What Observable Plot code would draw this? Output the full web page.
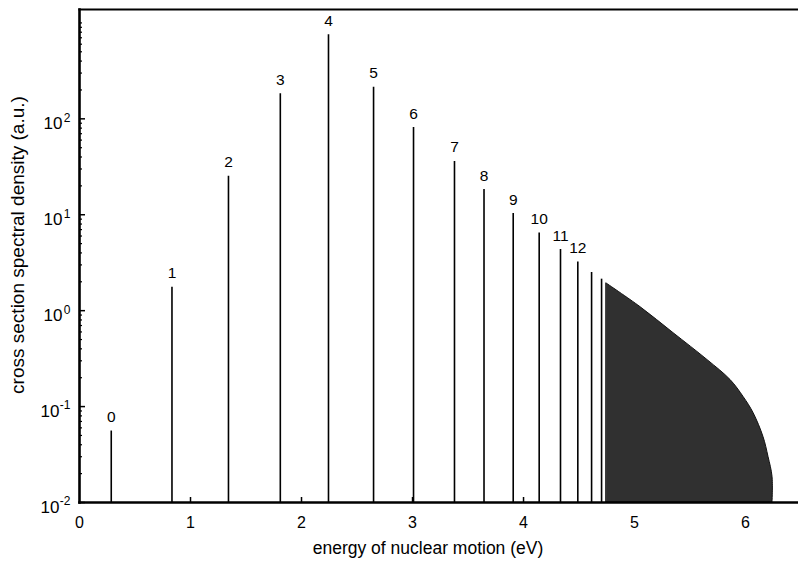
<!DOCTYPE html>
<html>
<head>
<meta charset="utf-8">
<script src="https://cdn.jsdelivr.net/npm/d3@7"></script>
<script src="https://cdn.jsdelivr.net/npm/@observablehq/plot@0.6"></script>
<style>
  html, body { margin: 0; padding: 0; background: #fff; }
</style>
</head>
<body>
<div id="chart"></div>
<script>
// ---- data ----
const peakLabels  = ["0","1","2","3","4","5","6","7","8","9","10","11","12","",""];
const peakEnergy  = [0.286, 0.833, 1.342, 1.809, 2.243, 2.649, 3.009, 3.378, 3.644, 3.907, 4.141, 4.333, 4.489, 4.613, 4.703];
const peakDensity = [0.0556, 1.75, 25.2, 183, 754, 214, 81, 36, 18.3, 10.3, 6.46, 4.34, 3.22, 2.5, 2.13];

const contEnergy  = [4.748, 5.054, 5.351, 5.658, 5.865, 5.982, 6.072, 6.162, 6.207, 6.243, 6.243];
const contDensity = [1.92, 1.087, 0.583, 0.305, 0.189, 0.126, 0.0855, 0.048, 0.0298, 0.0185, 0.01];

const yMin = 0.01;
const yMax = 1380;
const xMax = 6.477;

const xTicks = [0, 1, 2, 3, 4, 5, 6];
const xTickLabels = ["0", "1", "2", "3", "4", "5", "6"];
const yTicks = [0.01, 0.1, 1, 10, 100];
const yTickBase = ["10", "10", "10", "10", "10"];
const yTickExp = ["-2", "-1", "0", "1", "2"];
const yMinorMultipliers = [2, 3, 4, 5, 6, 7, 8, 9];
const yDecades = [0.01, 0.1, 1, 10, 100, 1000];

const xTitle = "energy of nuclear motion (eV)";
const yTitle = "cross section spectral density (a.u.)";

// ---- tables built from the arrays ----
const peaks = peakEnergy.map((e, i) => ({energy: e, density: peakDensity[i], label: peakLabels[i]}));
const continuum = contEnergy.map((e, i) => ({energy: e, density: contDensity[i]}));
const yLabels = yTicks.map((v, i) => ({v, base: yTickBase[i], exp: yTickExp[i], neg: yTickExp[i].startsWith("-")}));
const yMinor = [];
for (const d of yDecades) for (const m of yMinorMultipliers) { const v = d * m; if (v < yMax) yMinor.push(v); }
yMinor.push(1000);

const font = "'Liberation Sans', Arial, Helvetica, sans-serif";

const chart = Plot.plot({
  width: 798,
  height: 572,
  marginLeft: 79,
  marginRight: 0,
  marginTop: 9,
  marginBottom: 70,
  style: {fontFamily: font, fontSize: "16px", color: "black", background: "white", overflow: "visible"},
  x: {domain: [0, xMax], axis: null},
  y: {type: "log", domain: [yMin, yMax], axis: null},
  marks: [
    Plot.areaY(continuum, {x: "energy", y1: () => yMin, y2: "density", fill: "#303030", stroke: "#111", strokeWidth: 1, curve: "catmull-rom"}),
    Plot.ruleX(peaks, {x: "energy", y1: () => yMin, y2: "density", stroke: "black", strokeWidth: 1.6}),
    Plot.text(peaks.filter(d => d.label !== ""), {x: "energy", y: "density", text: "label", lineAnchor: "bottom", dy: -9, fontSize: 15.5, fill: "black"}),
    // minor and major y ticks (inward)
    Plot.axisY({ticks: yMinor, tickSize: -3, tickFormat: () => "", label: null, strokeWidth: 1.2}),
    Plot.axisY({ticks: yTicks, tickSize: -6, tickFormat: () => "", label: null, strokeWidth: 1.5}),
    // y tick labels: "10" with raised exponent
    Plot.text(yLabels.filter(d => d.neg), {y: "v", frameAnchor: "left", text: "base", textAnchor: "end", dx: -20, dy: 5, fontSize: 17, fill: "black"}),
    Plot.text(yLabels.filter(d => !d.neg), {y: "v", frameAnchor: "left", text: "base", textAnchor: "end", dx: -17, dy: 5, fontSize: 17, fill: "black"}),
    Plot.text(yLabels, {y: "v", frameAnchor: "left", text: "exp", textAnchor: "end", dx: -9, dy: -1, fontSize: 12, fill: "black"}),
    // x ticks and labels
    Plot.axisX({ticks: xTicks.slice(1, 5), tickSize: -5, tickFormat: () => "", label: null, strokeWidth: 1.5}),
    Plot.text(xTicks, {x: d => d, frameAnchor: "bottom", text: (d, i) => xTickLabels[i], lineAnchor: "middle", dy: 20, fontSize: 16, fill: "black"}),
    Plot.frame({anchor: "left", strokeWidth: 2.6}),
    Plot.frame({anchor: "bottom", strokeWidth: 2.6}),
    Plot.frame({anchor: "top", strokeWidth: 2.2}),
    Plot.text([xTitle], {frameAnchor: "bottom", dy: 51, dx: -11, fontSize: 17.5, fill: "black"}),
    Plot.text([yTitle], {frameAnchor: "left", rotate: -90, textAnchor: "middle", dx: -62, dy: -11, fontSize: 19, fill: "black"})
  ]
});
document.getElementById("chart").appendChild(chart);
</script>
</body>
</html>
